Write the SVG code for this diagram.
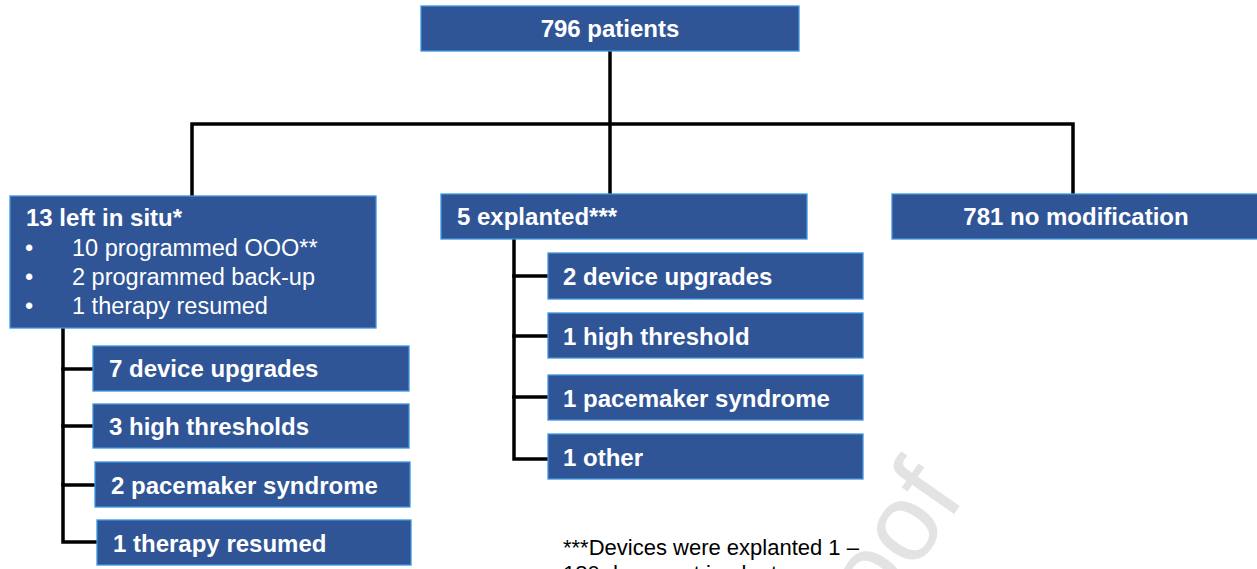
<svg xmlns="http://www.w3.org/2000/svg" width="1257" height="569" viewBox="0 0 1257 569">
<style>
.box{fill:#2F5597;stroke:#3E96DC;stroke-width:1.3}
.b{font-family:"Liberation Sans",Arial,sans-serif;font-weight:bold;font-size:24px;fill:#fff}
.r{font-family:"Liberation Sans",Arial,sans-serif;font-size:23.5px;fill:#fff}
.c{fill:none;stroke:#000;stroke-width:3.5;stroke-linejoin:miter;stroke-linecap:square}
.note{font-family:"Liberation Sans",Arial,sans-serif;font-size:22px;fill:#000}
.wm{font-family:"Liberation Sans",Arial,sans-serif;font-size:110px;fill:#E3E3E3}
</style>
<rect width="1257" height="569" fill="#fff"/>
<text class="wm" text-anchor="end" transform="translate(966,497) rotate(-55)">Proof</text>
<g id="connectors">
<path class="c" d="M610,52 V193"/>
<path class="c" d="M192,195 V124 H1073 V193"/>
<path class="c" d="M63,329 V542 H96"/>
<path class="c" d="M63,369 H92 M63,426 H92 M63,485 H94"/>
<path class="c" d="M514,240 V459 H547"/>
<path class="c" d="M514,276 H547 M514,336 H547 M514,397 H547"/>
</g>
<g id="n-root"><rect class="box" x="421" y="6" width="378" height="45"/><text class="b" x="610" y="37" text-anchor="middle">796 patients</text></g>
<g id="n-situ"><rect class="box" x="10" y="196" width="366" height="132"/>
<text class="b" x="26" y="226">13 left in situ*</text>
<text class="r" x="25" y="256">•</text><text class="r" x="72" y="256">10 programmed OOO**</text>
<text class="r" x="25" y="285">•</text><text class="r" x="72" y="285">2 programmed back-up</text>
<text class="r" x="25" y="314">•</text><text class="r" x="72" y="314">1 therapy resumed</text></g>
<g id="n-explanted"><rect class="box" x="441" y="194" width="366" height="45"/><text class="b" x="457" y="225">5 explanted***</text></g>
<g id="n-nomod"><rect class="box" x="892" y="194" width="370" height="45"/><text class="b" x="1076" y="225" text-anchor="middle">781 no modification</text></g>
<g id="n-l1"><rect class="box" x="93" y="346" width="316" height="45"/><text class="b" x="109" y="377">7 device upgrades</text></g>
<g id="n-l2"><rect class="box" x="93" y="404" width="316" height="44"/><text class="b" x="109" y="435">3 high thresholds</text></g>
<g id="n-l3"><rect class="box" x="95" y="462" width="315" height="45"/><text class="b" x="111" y="494">2 pacemaker syndrome</text></g>
<g id="n-l4"><rect class="box" x="97" y="520" width="314" height="45"/><text class="b" x="113" y="552">1 therapy resumed</text></g>
<g id="n-m1"><rect class="box" x="548" y="253" width="315" height="46"/><text class="b" x="563" y="285">2 device upgrades</text></g>
<g id="n-m2"><rect class="box" x="548" y="313" width="315" height="45"/><text class="b" x="563" y="345">1 high threshold</text></g>
<g id="n-m3"><rect class="box" x="548" y="375" width="315" height="45"/><text class="b" x="563" y="407">1 pacemaker syndrome</text></g>
<g id="n-m4"><rect class="box" x="548" y="434" width="315" height="45"/><text class="b" x="563" y="466">1 other</text></g>
<text class="note" x="563" y="555">***Devices were explanted 1 –</text>
<text class="note" x="563" y="581">180 days post implant</text>
</svg>
